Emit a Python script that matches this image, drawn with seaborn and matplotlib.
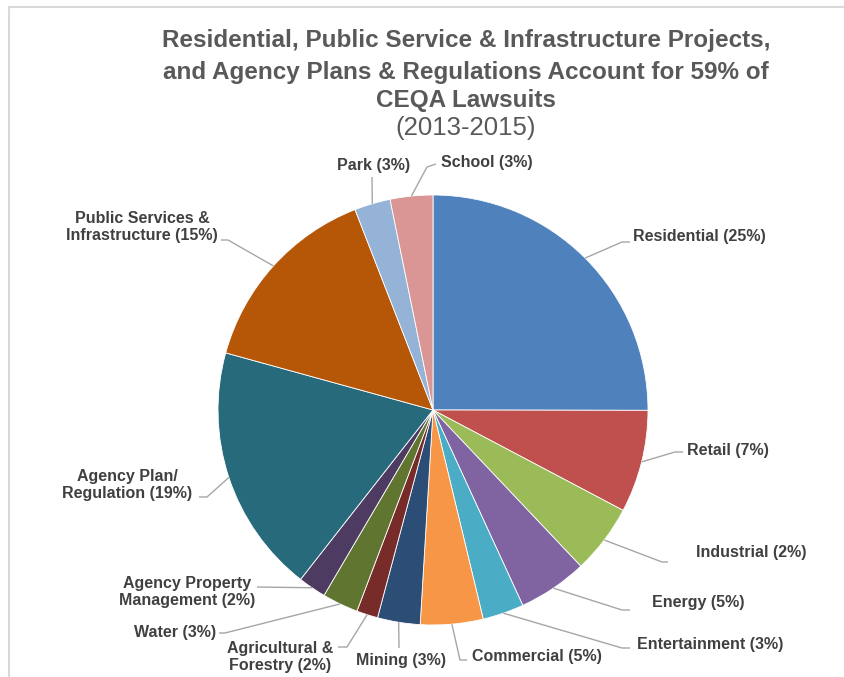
import matplotlib
matplotlib.use("Agg")
import numpy as np
import matplotlib.pyplot as plt
import seaborn as sns

# slice data, clockwise from 12 o'clock
categories = [
    "Residential", "Retail", "Industrial", "Energy", "Entertainment",
    "Commercial", "Mining", "Agricultural & Forestry", "Water",
    "Agency Property Management", "Agency Plan/Regulation",
    "Public Services & Infrastructure", "Park", "School",
]
shares = [25.0, 7.7, 5.2, 5.2, 3.1, 4.7, 3.2, 1.6, 2.7, 2.1, 18.7, 14.8, 2.7, 3.2]
label_texts = [
    "Residential (25%)", "Retail (7%)", "Industrial (2%)", "Energy (5%)",
    "Entertainment (3%)", "Commercial (5%)", "Mining (3%)",
    "Agricultural &\nForestry (2%)", "Water (3%)",
    "Agency Property\nManagement (2%)", "Agency Plan/\nRegulation (19%)",
    "Public Services &\nInfrastructure (15%)", "Park (3%)", "School (3%)",
]
colors = [
    "#4F81BD", "#C0504D", "#9BBB59", "#8064A2", "#4BACC6", "#F79646",
    "#2C4D75", "#772C2A", "#5F7530", "#4D3B62", "#276A7C", "#B65708",
    "#95B3D7", "#D99694",
]

# label layout in pixel coords (x, y from top): text pos, alignment, leader bend, leader end
label_layout = [
    ((633, 237), "left", (622, 242), (630, 242)),
    ((687, 451), "left", (675, 452), (683, 452)),
    ((696, 553), "left", (662, 562), (668, 562)),
    ((652, 602), "left", (622, 610), (630, 610)),
    ((637, 645), "left", (622, 648), (630, 648)),
    ((472, 657), "left", (460, 660), (467, 660)),
    ((401, 661), "center", (399, 648), (399, 648)),
    ((280, 657), "center", (347, 647), (338, 647)),
    ((216, 632), "right", (225, 633), (219, 633)),
    ((187, 592), "center", (257, 587), (257, 587)),
    ((127, 485), "center", (207, 497), (199, 497)),
    ((142, 227), "center", (228, 240), (221, 240)),
    ((374, 166), "center", (372, 177), (372, 177)),
    ((441, 162), "left", (427, 167), (436, 164)),
]

W, H = 845, 677
CX, CY, R = 433, 410, 215


def fy(y):
    return H - y


sns.set_theme(style="white")
plt.rcParams["font.family"] = ["Liberation Sans", "DejaVu Sans"]

fig = plt.figure(figsize=(W / 100, H / 100), dpi=100)
ax = fig.add_axes([0, 0, 1, 1])

wedges, _ = ax.pie(
    shares,
    colors=colors,
    startangle=90,
    counterclock=False,
    center=(CX, fy(CY)),
    radius=R,
    wedgeprops=dict(edgecolor="white", linewidth=0.6),
)
ax.set_xlim(0, W)
ax.set_ylim(0, H)
ax.set_aspect("equal")
ax.axis("off")

for w, txt, (tpos, ha, bend, end) in zip(wedges, label_texts, label_layout):
    mid = np.deg2rad((w.theta1 + w.theta2) / 2)
    rx = CX + R * np.cos(mid)
    ry = fy(CY) + R * np.sin(mid)
    ax.plot([rx, bend[0], end[0]], [ry, fy(bend[1]), fy(end[1])],
            color="#a6a6a6", lw=1.0, solid_capstyle="butt")
    ax.text(tpos[0], fy(tpos[1]), txt, ha=ha, va="center", fontsize=11.5,
            fontweight="bold", color="#404040", linespacing=1.1,
            multialignment="center")

# title
title_lines = [
    "Residential, Public Service & Infrastructure Projects,",
    "and Agency Plans & Regulations Account for 59% of",
    "CEQA Lawsuits",
]
for y, line in zip([41, 72, 100], title_lines):
    ax.text(466, fy(y), line, ha="center", va="center", fontsize=17.5,
            fontweight="bold", color="#595959")
ax.text(466, fy(128), "(2013-2015)", ha="center", va="center", fontsize=18.5,
        color="#595959")

# thin frame lines at top and left
ax.plot([9, W], [fy(7), fy(7)], color="#d9d9d9", lw=1.5)
ax.plot([9, 9], [fy(7), 0], color="#d9d9d9", lw=1.5)

fig.savefig("out.png", dpi=100)
